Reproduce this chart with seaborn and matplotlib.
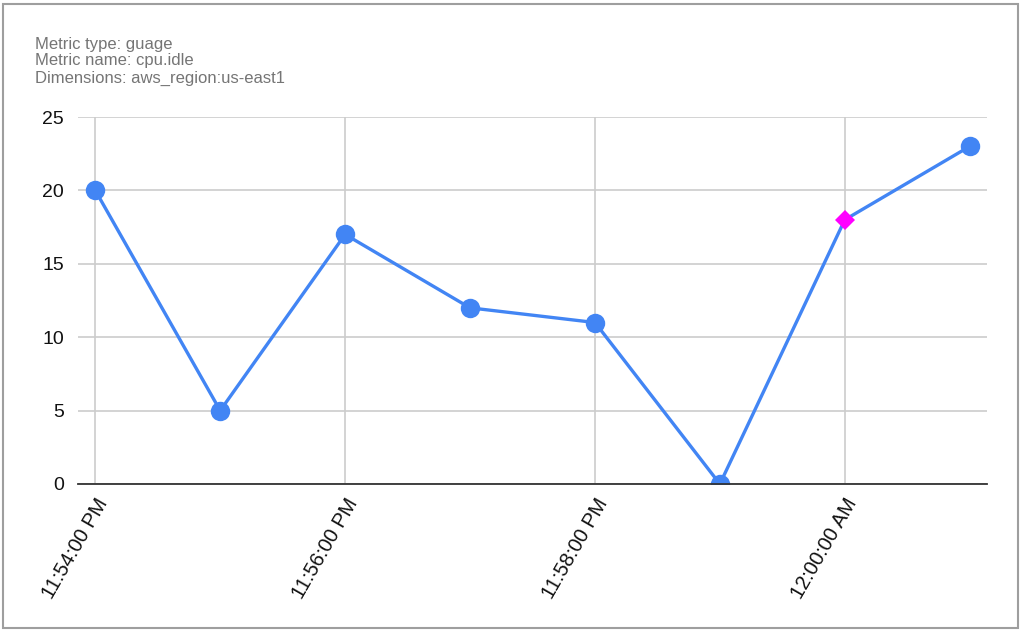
import pandas as pd
import numpy as np
import matplotlib.pyplot as plt
import matplotlib.dates as mdates
from matplotlib.patches import Rectangle
import seaborn as sns

# data
times = ["23:54", "23:55", "23:56", "23:57", "23:58", "23:59", "00:00", "00:01"]
days = ["2024-01-01"] * 6 + ["2024-01-02"] * 2
values = [20, 5, 17, 12, 11, 0, 18, 23]
highlight = 6  # the magenta point
header = ["Metric type: guage", "Metric name: cpu.idle", "Dimensions: aws_region:us-east1"]

df = pd.DataFrame({
    "time": pd.to_datetime([d + " " + t for d, t in zip(days, times)]),
    "value": values,
})
df["special"] = df.index == highlight

sns.set_style("white")
plt.rcParams['font.family'] = ['Liberation Sans', 'DejaVu Sans']

blue = "#4285f4"
grid_col = "#cccccc"

fig = plt.figure(figsize=(10.24, 6.33), dpi=100)
ax = fig.add_axes([78 / 1024, 1 - 484 / 633, 909 / 1024, 367 / 633])

sns.lineplot(data=df, x="time", y="value", ax=ax, color=blue, linewidth=2.4,
             zorder=3)
normal = df[~df["special"]]
hp = df[df["special"]]
ax.plot(normal["time"], normal["value"], marker="o", color=blue, markersize=14,
        markeredgewidth=0, linestyle="none", zorder=4)
ax.plot(hp["time"], hp["value"], marker="D", color="#ff00ff", markersize=10,
        markeredgewidth=0, linestyle="none", zorder=4)

# x limits with a bit of padding like google charts
pad = pd.Timedelta(seconds=8.3)
ax.set_xlim(df["time"].iloc[0] - pad, df["time"].iloc[-1] + pad)
ax.set_ylim(0, 25)
ax.set_yticks([0, 5, 10, 15, 20, 25])

ax.xaxis.set_major_locator(mdates.MinuteLocator(byminute=range(0, 60, 2)))
ax.xaxis.set_major_formatter(mdates.DateFormatter("%-I:%M:%S %p"))

ax.grid(True, color=grid_col, linewidth=1.2)
ax.set_axisbelow(True)
for s in ["top", "right", "left"]:
    ax.spines[s].set_visible(False)
ax.spines["bottom"].set_color("#333333")
ax.spines["bottom"].set_linewidth(1.3)
ax.spines["bottom"].set_zorder(5)

ax.tick_params(axis="y", length=0, labelsize=14, colors="#111111", pad=10)
ax.tick_params(axis="x", length=0, labelsize=14.5, colors="#111111", pad=8)
plt.setp(ax.get_xticklabels(), rotation=60, ha="right", va="top",
         rotation_mode="anchor")
ax.set_xlabel("")
ax.set_ylabel("")

# header text in the top left
for i, line in enumerate(header):
    fig.text(35 / 1024, 1 - (44 + 17 * i) / 633, line, fontsize=12,
             color="#757575", va="center", ha="left")

# chart frame
fig.patches.append(Rectangle((3 / 1024, 1 - 628 / 633), 1015 / 1024, 624 / 633,
                             transform=fig.transFigure, fill=False,
                             edgecolor="#9e9e9e", linewidth=1.5))

fig.savefig("out.png", dpi=100)
